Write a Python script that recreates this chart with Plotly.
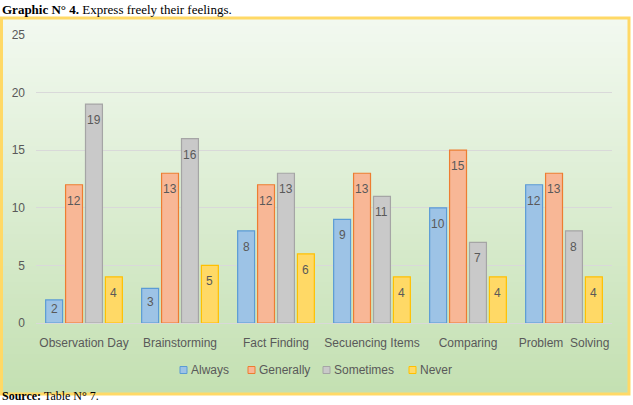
import plotly.graph_objects as go

categories = ["Observation Day", "Brainstorming", "Fact Finding",
              "Secuencing Items", "Comparing", "Problem\u00a0 Solving"]
always = [2, 3, 8, 9, 10, 12]
generally = [12, 13, 12, 13, 15, 13]
sometimes = [19, 16, 13, 11, 7, 8]
never = [4, 5, 6, 4, 4, 4]
series_names = ["Always", "Generally", "Sometimes", "Never"]
y_ticks = [0, 5, 10, 15, 20, 25]

W, H = 633, 405
fills = ["#9DC3E6", "#F8B796", "#C9C9C9", "#FFD966"]
lines = ["#5B9BD5", "#ED7D31", "#A5A5A5", "#FFC000"]
txt = "#595959"
font_fam = "Liberation Sans"

# layout geometry (pixels)
PL, PR, PT, PB = 36, 612, 35, 323
BARGAP = 0.17
YMAX = 25

def px(x):
    return x / W

def py(y):
    return 1 - y / H

fig = go.Figure()
series = [always, generally, sometimes, never]
for name, vals, f, l in zip(series_names, series, fills, lines):
    fig.add_trace(go.Bar(
        x=categories, y=vals, name=name,
        marker=dict(color=f, line=dict(color=l, width=1.2)),
        showlegend=False, hoverinfo="x+y+name",
    ))

# value labels placed near the top inside each bar
cat_w = (PR - PL) / len(categories)
slot = cat_w * (1 - BARGAP) / len(series)
unit_px = (PB - PT) / YMAX
annotations = []
for i, vals in enumerate(series):
    for c, v in zip(categories, vals):
        h = v * unit_px
        annotations.append(dict(
            x=c, y=v, xref="x", yref="y", text=str(v), showarrow=False,
            xanchor="center", yanchor="middle",
            xshift=(i - (len(series) - 1) / 2) * slot,
            yshift=-min(16, 0.4 * h),
            font=dict(family=font_fam, size=12, color=txt)))

# background gradient bands
shapes = []
top, bot = 18, 394
c0 = (242, 249, 240)
c1 = (196, 224, 178)
n = 94
for k in range(n):
    t = k / (n - 1)
    c = tuple(int(round(c0[j] + (c1[j] - c0[j]) * t)) for j in range(3))
    y0 = top + (bot - top) * k / n
    y1 = top + (bot - top) * (k + 1) / n + 0.6
    shapes.append(dict(type="rect", xref="paper", yref="paper",
                       x0=px(1), x1=px(629), y0=py(y0), y1=py(min(y1, bot)),
                       fillcolor="rgb(%d,%d,%d)" % c, line=dict(width=0), layer="below"))
shapes.append(dict(type="rect", xref="paper", yref="paper",
                   x0=px(1.5), x1=px(629), y0=py(18), y1=py(394),
                   fillcolor="rgba(0,0,0,0)", line=dict(color="#FFD966", width=3), layer="above"))

# custom compact legend
leg_x = [180, 248, 323, 409]
leg_y = 370
for name, f, l, lx in zip(series_names, fills, lines, leg_x):
    shapes.append(dict(type="rect", xref="paper", yref="paper",
                       x0=px(lx), x1=px(lx + 7), y0=py(leg_y - 3.5), y1=py(leg_y + 3.5),
                       fillcolor=f, line=dict(color=l, width=1), layer="above"))
    annotations.append(dict(text=name, xref="paper", yref="paper", x=px(lx + 9), y=py(leg_y),
                            xanchor="left", yanchor="middle", showarrow=False,
                            font=dict(family=font_fam, size=12, color=txt)))

annotations += [
    dict(text="<b>Graphic N° 4.</b> Express freely their feelings.", xref="paper", yref="paper",
         x=0, y=1, xanchor="left", yanchor="top", showarrow=False,
         font=dict(family="Liberation Serif", size=13, color="black")),
    dict(text="<b>Source:</b> Table N° 7.", xref="paper", yref="paper",
         x=0, y=0, xanchor="left", yanchor="bottom", showarrow=False,
         font=dict(family="Liberation Serif", size=12, color="black")),
]

fig.update_layout(
    width=W, height=H,
    margin=dict(l=0, r=0, t=0, b=0),
    paper_bgcolor="white", plot_bgcolor="rgba(0,0,0,0)",
    barmode="group", bargap=BARGAP, bargroupgap=0.15,
    shapes=shapes, annotations=annotations,
    font=dict(family=font_fam, size=11, color=txt),
    xaxis=dict(domain=[px(PL), px(PR)], showgrid=False, showline=False, ticks="",
               automargin=False, ticklabelstandoff=11,
               tickfont=dict(size=12, color=txt)),
    yaxis=dict(domain=[py(PB), py(PT)], range=[0, YMAX], tickvals=y_ticks,
               gridcolor="#D9D9D9", gridwidth=1, zeroline=True, zerolinecolor="#D9D9D9",
               zerolinewidth=1, showline=False, ticks="", ticklabelstandoff=10,
               automargin=False, tickfont=dict(size=12, color=txt)),
    showlegend=False,
)

fig.write_html("out.html")
